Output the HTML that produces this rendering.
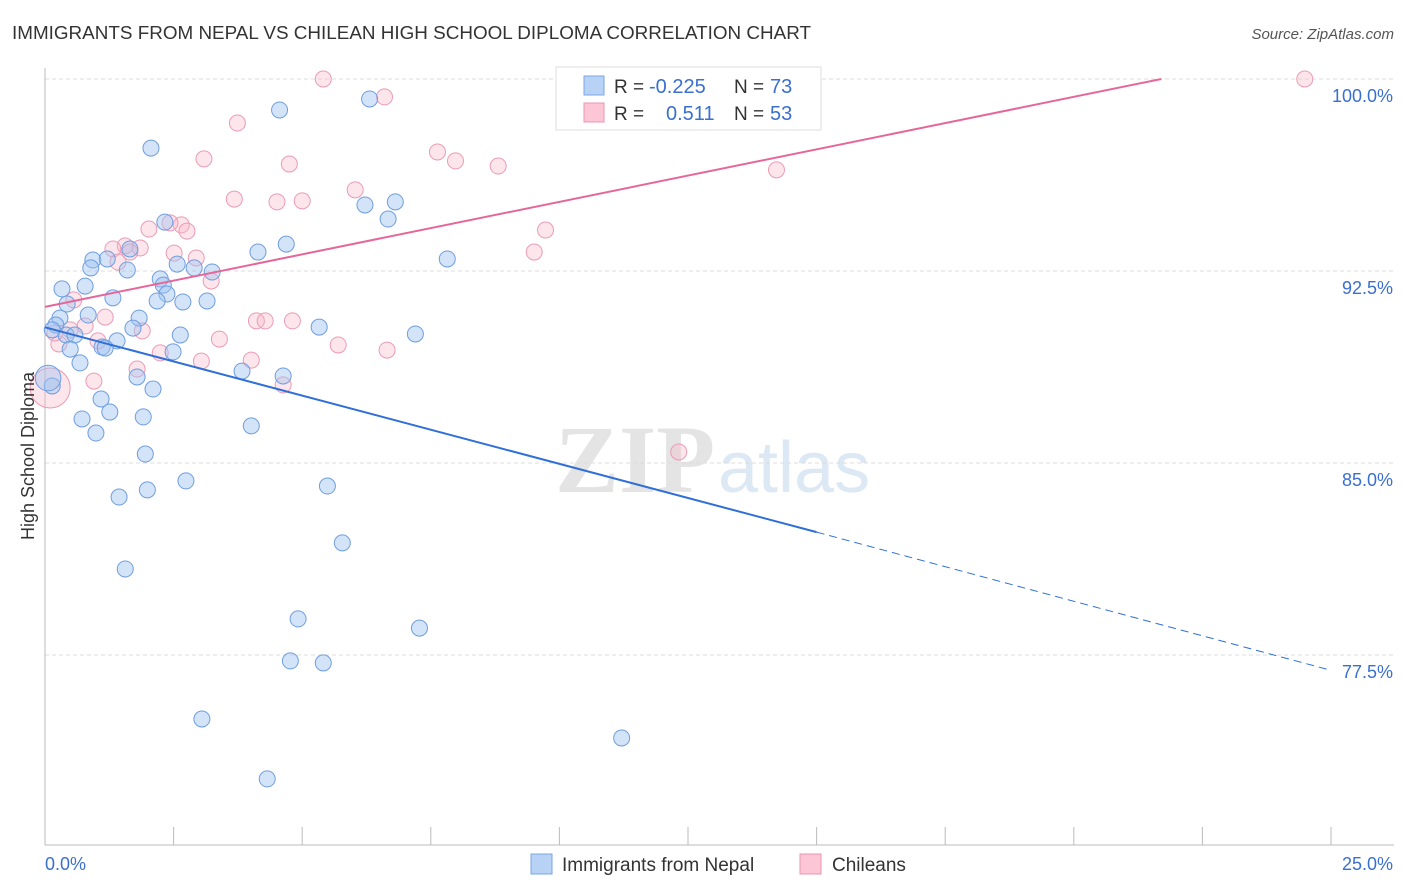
<!DOCTYPE html>
<html><head><meta charset="utf-8">
<style>
body{margin:0;background:#fff;font-family:"Liberation Sans",sans-serif;}
svg{display:block}
</style></head>
<body>
<svg id="chart" width="1406" height="892" xmlns="http://www.w3.org/2000/svg">
<text x="12" y="39" font-size="18" fill="#333" textLength="799" lengthAdjust="spacingAndGlyphs">IMMIGRANTS FROM NEPAL VS CHILEAN HIGH SCHOOL DIPLOMA CORRELATION CHART</text>
<text x="1394" y="39" font-size="15" fill="#555" text-anchor="end" font-style="italic">Source: ZipAtlas.com</text>
<text x="555" y="492" font-size="96" fill="#e4e4e4" font-family="Liberation Serif" font-weight="bold">ZIP</text>
<text x="718" y="492" font-size="72" fill="#dde8f5">atlas</text>
<g id="grid"></g>
<g id="axes"></g>
<g id="pts"></g>
<g id="lines"></g>
<text transform="translate(34,456) rotate(-90)" font-size="18" fill="#333" text-anchor="middle">High School Diploma</text>
<g>
<rect x="556" y="67" width="265" height="63" fill="#fff" stroke="#ddd"/>
<rect x="584" y="76" width="20" height="19" fill="#b7d2f5" stroke="#7aa6e6"/>
<rect x="584" y="103" width="20" height="19" fill="#fcc6d6" stroke="#eb94b0"/>
<text x="614" y="93" font-size="19" fill="#333">R =</text>
<text x="649" y="93" font-size="20" fill="#3a6fd0">-0.225</text>
<text x="734" y="93" font-size="19" fill="#333">N =</text>
<text x="770" y="93" font-size="20" fill="#3a6fd0">73</text>
<text x="614" y="120" font-size="19" fill="#333">R =</text>
<text x="666" y="120" font-size="20" fill="#3a6fd0">0.511</text>
<text x="734" y="120" font-size="19" fill="#333">N =</text>
<text x="770" y="120" font-size="20" fill="#3a6fd0">53</text>
</g>
<g>
<rect x="531" y="854" width="21" height="20" fill="#b7d2f5" stroke="#7aa6e6"/>
<text x="562" y="871" font-size="19" fill="#333">Immigrants from Nepal</text>
<rect x="800" y="854" width="21" height="20" fill="#fcc6d6" stroke="#eb94b0"/>
<text x="832" y="871" font-size="19" fill="#333">Chileans</text>
</g>
</svg>
<script>
const yTicks=[100,92.5,85,77.5];
const yTickLabels=["100.0%","92.5%","85.0%","77.5%"];
const xTickLabels=["0.0%","25.0%"];
const nepalX=[4.56,6.31,2.06,6.81,6.22,6.67,2.33,1.65,4.14,4.69,0.93,1.21,0.89,1.60,2.57,2.90,3.25,2.24,2.30,0.33,0.78,2.37,1.32,2.18,2.68,3.15,7.82,0.43,0.84,0.29,0.21,1.83,1.71,5.33,7.20,2.63,0.41,0.58,1.40,1.11,0.49,1.17,2.49,0.68,3.83,4.63,1.79,0.14,2.10,1.09,1.26,0.72,1.91,0.99,4.01,1.95,2.74,1.99,1.44,5.49,5.78,1.56,4.92,7.28,4.77,5.41,3.05,11.21,4.32,0.06,0.14];
const nepalY=[98.79,99.22,97.30,95.20,95.08,94.53,94.41,93.36,93.24,93.55,92.93,92.97,92.62,92.54,92.77,92.62,92.46,92.19,91.95,91.80,91.91,91.60,91.45,91.33,91.29,91.33,92.97,91.21,90.78,90.66,90.39,90.66,90.27,90.31,90.04,90.00,90.00,90.00,89.77,89.53,89.45,89.49,89.34,88.91,88.59,88.40,88.36,88.01,87.89,87.50,86.99,86.72,86.80,86.17,86.45,85.35,84.30,83.95,83.67,84.10,81.88,80.86,78.91,78.55,77.27,77.19,75.00,74.26,72.66,88.32,90.20];
const nepalSize=[1,1,1,1,1,1,1,1,1,1,1,1,1,1,1,1,1,1,1,1,1,1,1,1,1,1,1,1,1,1,1,1,1,1,1,1,1,1,1,1,1,1,1,1,1,1,1,1,1,1,1,1,1,1,1,1,1,1,1,1,1,1,1,1,1,1,1,1,1,1.6,1];
const chileX=[5.41,13.68,24.49,6.60,3.74,7.63,7.98,3.09,4.75,8.81,14.22,6.03,3.68,4.51,5.00,9.73,2.02,2.65,2.43,2.76,9.51,1.56,1.85,1.32,1.65,2.51,2.94,1.42,3.23,0.56,1.17,0.78,1.89,4.11,4.28,4.81,3.39,1.03,0.27,5.70,6.65,2.24,3.04,4.01,1.79,0.95,4.63,12.32,0.10,0.19,0.49];
const chileY=[100,100,100,99.30,98.28,97.15,96.80,96.88,96.68,96.60,96.45,95.67,95.31,95.20,95.24,94.10,94.14,94.30,94.38,94.06,93.24,93.48,93.40,93.36,93.24,93.20,93.01,92.85,92.11,91.37,90.70,90.35,90.16,90.55,90.55,90.55,89.84,89.77,89.65,89.61,89.41,89.30,88.98,89.02,88.67,88.20,88.05,85.43,87.93,90.08,90.20];
const chileSize=[1,1,1,1,1,1,1,1,1,1,1,1,1,1,1,1,1,1,1,1,1,1,1,1,1,1,1,1,1,1,1,1,1,1,1,1,1,1,1,1,1,1,1,1,1,1,1,1,2.5,1,1];
const X=v=>45+v*51.44, Y=v=>79+(100-v)*25.6;
const NS="http://www.w3.org/2000/svg";
function mk(tag,attrs,parent){const e=document.createElementNS(NS,tag);for(const k in attrs)e.setAttribute(k,attrs[k]);parent.appendChild(e);return e;}
const grid=document.getElementById('grid'),axes=document.getElementById('axes'),pts=document.getElementById('pts'),lines=document.getElementById('lines');
yTicks.forEach((t,i)=>{
 const l=mk('line',{x1:45,x2:1394,y1:Y(t),y2:Y(t),stroke:'#ddd','stroke-dasharray':'4,3'},grid);
 
 
 const tx=mk('text',{x:1393,y:Y(t)+23,'font-size':18,fill:'#3a6fd0','text-anchor':'end'},axes);
 tx.textContent=yTickLabels[i];
 
 
});
const ax=mk('line',{x1:45,x2:45,y1:68,y2:845,stroke:'#bbb'},axes);


const bx=mk('line',{x1:45,x2:1394,y1:845,y2:845,stroke:'#bbb'},axes);


for(let i=0;i<=10;i++){const t=mk('line',{x1:X(i*2.5),x2:X(i*2.5),y1:827,y2:845,stroke:'#bbb'},axes);
 
 }
[[0,45,'start'],[25,1393,'end']].forEach((d,i)=>{const t=mk('text',{x:d[1],y:870,'font-size':18,fill:'#3a6fd0','text-anchor':d[2]},axes);t.textContent=xTickLabels[i];
 
 });
chileX.forEach((x,i)=>{const c=mk('circle',{cx:X(x),cy:Y(chileY[i]),r:8*chileSize[i],fill:'rgba(249,180,200,0.35)',stroke:'#eb9bb5','stroke-width':1},pts);
 
 });
nepalX.forEach((x,i)=>{const c=mk('circle',{cx:X(x),cy:Y(nepalY[i]),r:8*nepalSize[i],fill:'rgba(160,195,240,0.45)',stroke:'#6f9de0','stroke-width':1},pts);
 
 });
const bl=mk('line',{x1:X(0),y1:Y(90.3),x2:X(15),y2:Y(82.3),stroke:'#2f6fd6','stroke-width':2},lines);


const bd=mk('line',{x1:X(15),y1:Y(82.3),x2:X(25),y2:Y(76.9),stroke:'#2f6fd6','stroke-width':1,'stroke-dasharray':'8,5'},lines);


const pl=mk('line',{x1:X(0),y1:Y(91.1),x2:X(21.7),y2:Y(100),stroke:'#e5679a','stroke-width':2},lines);


</script>
</body></html>
